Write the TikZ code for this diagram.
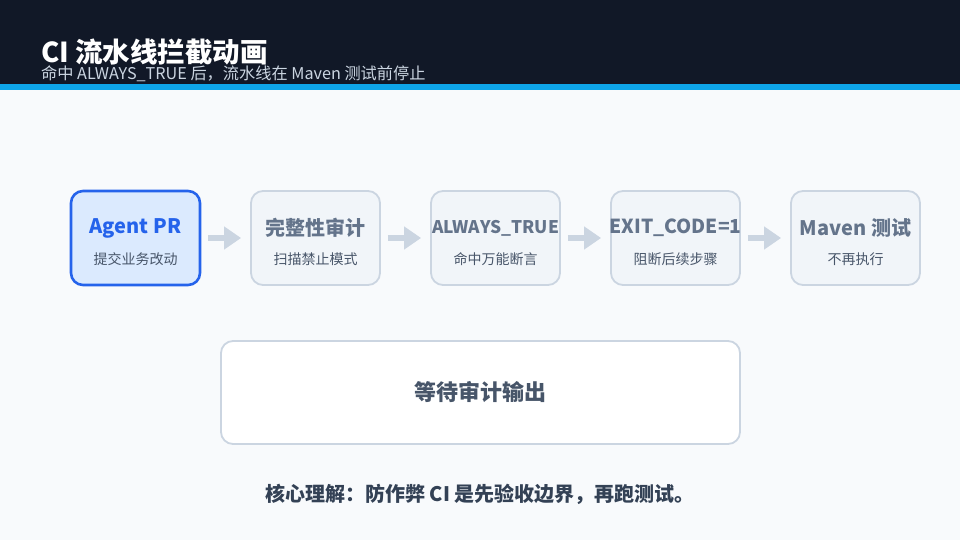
\documentclass[tikz,border=0pt]{standalone}
\usepackage{fontspec}
\setmainfont{Noto Sans CJK SC}
\usetikzlibrary{arrows.meta,positioning}

\definecolor{headbg}{HTML}{111827}
\definecolor{stripe}{HTML}{0EA5E9}
\definecolor{pagebg}{HTML}{F8FAFC}
\definecolor{activefill}{HTML}{DBEAFE}
\definecolor{activeline}{HTML}{2563EB}
\definecolor{idlefill}{HTML}{F1F5F9}
\definecolor{idleline}{HTML}{CBD5E1}
\definecolor{idletext}{HTML}{64748B}
\definecolor{subtext}{HTML}{475569}
\definecolor{notetext}{HTML}{334155}

\begin{document}
\begin{tikzpicture}[x=1pt,y=-1pt]
\tikzset{
  stagebox/.style={draw=idleline,fill=idlefill,line width=1.8pt,rounded corners=12pt,
    minimum width=129pt,minimum height=94pt,inner sep=0pt},
  activebox/.style={stagebox,draw=activeline,fill=activefill,line width=2.6pt},
  stagetitle/.style={font=\fontsize{20}{24}\selectfont\bfseries,text=idletext},
  stagenote/.style={font=\fontsize{14}{16}\selectfont,text=subtext},
  flowarrow/.style={draw=idleline,line width=6pt,shorten <=7pt,shorten >=9pt,
    -{Triangle[length=17pt,width=22pt]}}
}
\useasboundingbox (0,0) rectangle (960,540);
% background and header
\fill[pagebg] (0,0) rectangle (960,540);
\fill[headbg] (0,0) rectangle (960,84);
\fill[stripe] (0,84) rectangle (960,90);
\node[anchor=base west,inner sep=0pt,text=white,font=\fontsize{27.5}{31}\selectfont\bfseries] (n_title) at (41,63) {CI 流水线拦截动画};
\node[anchor=base west,inner sep=0pt,text=idleline,font=\fontsize{16.2}{18}\selectfont] (n_subtitle) at (41,80) {命中 ALWAYS\_TRUE 后，流水线在 Maven 测试前停止};
% pipeline stages
\node[activebox] (n_pr) at (135.5,238) {};
\node[stagebox] (n_audit) at (315.5,238) {};
\node[stagebox] (n_always) at (495.5,238) {};
\node[stagebox] (n_exit) at (675.5,238) {};
\node[stagebox] (n_maven) at (855.5,238) {};
\node[stagetitle,text=activeline] at (135.5,228) {Agent PR};
\node[stagenote] at (135.5,259) {提交业务改动};
\node[stagetitle] at (315.5,228) {完整性审计};
\node[stagenote] at (315.5,259) {扫描禁止模式};
\node[stagetitle,inner xsep=0pt] at (495.5,228) {\resizebox{127pt}{!}{ALWAYS\_TRUE}};
\node[stagenote] at (495.5,259) {命中万能断言};
\node[stagetitle,inner xsep=0pt] at (675.5,228) {\resizebox{132pt}{!}{EXIT\_CODE=1}};
\node[stagenote] at (675.5,259) {阻断后续步骤};
\node[stagetitle] at (855.5,228) {Maven 测试};
\node[stagenote] at (855.5,259) {不再执行};
\draw[flowarrow] (n_pr) -- (n_audit);
\draw[flowarrow] (n_audit) -- (n_always);
\draw[flowarrow] (n_always) -- (n_exit);
\draw[flowarrow] (n_exit) -- (n_maven);
% status panel
\node[draw=idleline,fill=white,line width=1.8pt,rounded corners=12pt,minimum width=519pt,
  minimum height=103pt,text=subtext,font=\fontsize{22}{26}\selectfont\bfseries] (n_wait) at (480.5,392.5) {等待审计输出};
\node[text=notetext,font=\fontsize{20}{24}\selectfont\bfseries] (n_note) at (480,494) {核心理解：防作弊 CI 是先验收边界，再跑测试。};
\end{tikzpicture}
\end{document}
